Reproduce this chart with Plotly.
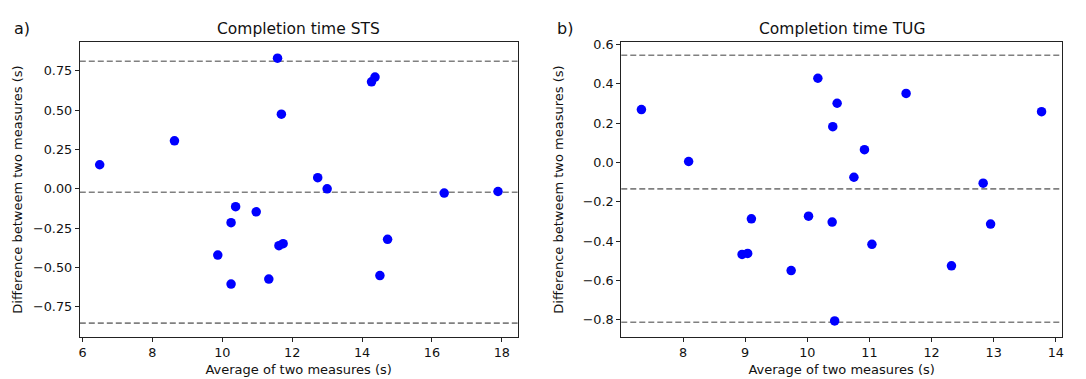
import plotly.graph_objects as go

W, H = 1086, 379

# Panel a) STS
sts_avg = [6.49, 8.63, 11.58, 11.69, 14.27, 14.37, 12.73, 13.00, 16.35, 17.89,
           10.38, 10.97, 10.25, 14.73, 11.62, 11.74, 9.87, 14.51, 11.33, 10.25]
sts_diff = [0.153, 0.305, 0.83, 0.474, 0.68, 0.71, 0.071, 0.0, -0.027, -0.017,
            -0.113, -0.146, -0.215, -0.321, -0.361, -0.348, -0.421, -0.551, -0.573, -0.605]
sts_lines = [0.81, -0.022, -0.853]

# Panel b) TUG
tug_avg = [7.33, 8.09, 10.17, 10.48, 10.41, 11.59, 13.77, 10.92, 10.75, 12.83,
           9.10, 10.02, 10.40, 12.95, 11.04, 8.95, 9.04, 9.74, 12.32, 10.44]
tug_diff = [0.269, 0.005, 0.428, 0.301, 0.182, 0.351, 0.258, 0.065, -0.075, -0.105,
            -0.286, -0.273, -0.303, -0.313, -0.416, -0.467, -0.462, -0.549, -0.525, -0.805]
tug_lines = [0.545, -0.134, -0.812]

titles = ["Completion time STS", "Completion time TUG"]
panel_labels = ["a)", "b)"]
xlabel = "Average of two measures (s)"
ylabel = "Difference betweem two measures (s)"

FONT = "DejaVu Sans"
TXT = "#111111"
fig = go.Figure()

fig.add_trace(go.Scatter(x=sts_avg, y=sts_diff, mode="markers",
                         marker=dict(color="#0000ff", size=9.5), xaxis="x", yaxis="y",
                         showlegend=False))
fig.add_trace(go.Scatter(x=tug_avg, y=tug_diff, mode="markers",
                         marker=dict(color="#0000ff", size=9.5), xaxis="x2", yaxis="y2",
                         showlegend=False))

for v in sts_lines:
    fig.add_shape(type="line", xref="x domain", yref="y", x0=0, x1=1, y0=v, y1=v,
                  line=dict(color="#808080", width=1.6, dash="6px,3px"), layer="below")
for v in tug_lines:
    fig.add_shape(type="line", xref="x2 domain", yref="y2", x0=0, x1=1, y0=v, y1=v,
                  line=dict(color="#808080", width=1.6, dash="6px,3px"), layer="below")

axis_common = dict(showgrid=False, zeroline=False, showline=True, linecolor="#222222",
                   linewidth=1, mirror=True, ticks="outside", ticklen=4, tickwidth=1,
                   tickcolor="#222222", tickfont=dict(family=FONT, size=12.8, color=TXT),
                   title_font=dict(family=FONT, size=13, color=TXT))

d1 = [79 / W, 518 / W]
d2 = [622 / W, 1064 / W]
ydom = [1 - 336 / H, 1 - 37 / H]

fig.update_layout(
    width=W, height=H,
    margin=dict(l=0, r=0, t=0, b=0),
    paper_bgcolor="white", plot_bgcolor="white",
    xaxis=dict(domain=d1, range=[5.92, 18.45], tickvals=[6, 8, 10, 12, 14, 16, 18],
               title=dict(text=xlabel, standoff=5), anchor="y", **axis_common),
    yaxis=dict(domain=ydom, range=[-0.939, 0.93],
               tickvals=[-0.75, -0.5, -0.25, 0, 0.25, 0.5, 0.75], tickformat=".2f",
               title=dict(text=ylabel, standoff=7), anchor="x", **axis_common),
    xaxis2=dict(domain=d2, range=[7.006, 14.1], tickvals=[8, 9, 10, 11, 12, 13, 14],
                title=dict(text=xlabel, standoff=5), anchor="y2", **axis_common),
    yaxis2=dict(domain=ydom, range=[-0.885, 0.61],
                tickvals=[-0.8, -0.6, -0.4, -0.2, 0, 0.2, 0.4, 0.6], tickformat=".1f",
                title=dict(text=ylabel, standoff=16), anchor="x2", **axis_common),
)

for i, (dom, t, pl) in enumerate(zip([d1, d2], titles, panel_labels)):
    fig.add_annotation(x=(dom[0] + dom[1]) / 2, y=1 - 23 / H, xref="paper", yref="paper",
                       text=t, showarrow=False, xanchor="center", yanchor="middle",
                       font=dict(family=FONT, size=15.5, color=TXT))
    fig.add_annotation(x=(11 if i == 0 else 556) / W, y=1 - 23 / H, xref="paper", yref="paper",
                       text=pl, showarrow=False, xanchor="left", yanchor="middle",
                       font=dict(family=FONT, size=16, color=TXT))

fig.write_html("out.html", config={"displayModeBar": False},
               post_script="document.body.style.margin='0';")
